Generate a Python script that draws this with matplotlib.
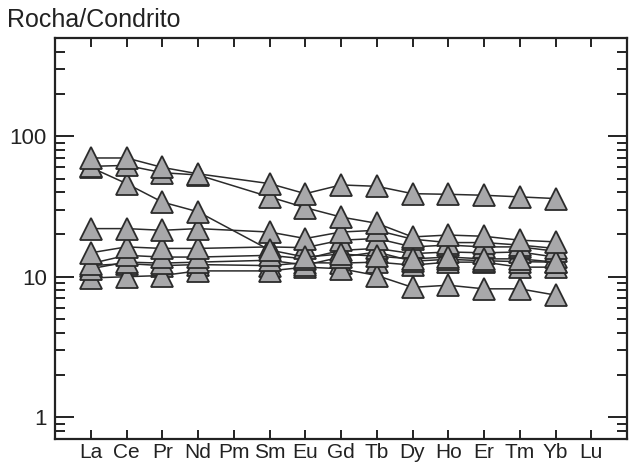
import numpy as np
import matplotlib
matplotlib.use("Agg")
import matplotlib.pyplot as plt
from matplotlib.ticker import LogLocator, NullFormatter, FixedLocator

plt.rcParams['font.family'] = ['Liberation Sans', 'DejaVu Sans']

# REE labels on the x axis (La..Lu), Pm and Lu have no data
elements = ["La", "Ce", "Pr", "Nd", "Pm", "Sm", "Eu", "Gd", "Tb", "Dy", "Ho", "Er", "Tm", "Yb", "Lu"]
measured = ["La", "Ce", "Pr", "Nd", "Sm", "Eu", "Gd", "Tb", "Dy", "Ho", "Er", "Tm", "Yb"]

# rock / chondrite normalised values, one list per sample
s1 = [70, 70, 60, 54, 46, 39, 45, 44, 39, 38.6, 38, 37, 36]
s2 = [61, 62, 55, 53, 37, 31, 26.6, 24, 19.2, 19.8, 19.4, 18.2, 17.7]
s3 = [60, 46, 34, 29, 15.5, 13.8, 14.5, 14, 13.4, 13.8, 13.4, 13.4, 12.7]
s4 = [22, 22, 21.4, 22, 20.8, 18.7, 20.8, 21.4, 18.5, 17.5, 17.5, 16.8, 15.9]
s5 = [14.8, 16.3, 15.9, 15.9, 16.3, 16.1, 18.2, 18.7, 16.3, 16.8, 16.3, 16.3, 15.2]
s6 = [12.4, 14.2, 13.8, 13.8, 14.2, 13.4, 15.4, 15.9, 14.6, 15.0, 14.8, 15.0, 13.8]
s7 = [11.4, 12.7, 12.5, 12.7, 13.1, 12.1, 13.8, 15.0, 12.9, 13.3, 13.0, 12.8, 12.7]
s8 = [9.8, 10.0, 10.2, 11.0, 11.0, 11.7, 11.4, 10.2, 8.4, 8.7, 8.2, 8.2, 7.4]
s9 = [12.0, 12.4, 12.0, 12.2, 12.0, 12.6, 12.5, 12.7, 12.1, 12.7, 12.7, 11.7, 11.7]
samples = [s9, s8, s7, s6, s5, s4, s3, s2, s1]

xpos = [elements.index(e) + 1 for e in measured]

fig = plt.figure(figsize=(6.3, 4.66), dpi=100)
ax = fig.add_axes([55 / 630, 1 - 439 / 466, 572 / 630, 401 / 466])

for s in samples:
    ax.plot(xpos, s, color="#2b2b2b", lw=1.1, marker="^", ms=15.5,
            mfc="#a8a8aa", mec="#2b2b2b", mew=1.3)

ax.set_yscale("log")
ax.set_ylim(0.7, 500)
ax.set_xlim(0, 16)
ax.set_xticks(range(1, 16))
ax.set_xticklabels(elements)
ax.yaxis.set_major_locator(FixedLocator([1, 10, 100]))
ax.yaxis.set_minor_locator(LogLocator(base=10, subs=np.arange(2, 10)))
ax.yaxis.set_minor_formatter(NullFormatter())
ax.set_yticklabels(["1", "10", "100"])

for sp in ax.spines.values():
    sp.set_linewidth(1.6)
    sp.set_color("#222222")

ax.tick_params(axis="x", which="both", direction="in", top=True, length=6.5,
               width=1.4, labelsize=15, pad=3, colors="#222222")
ax.tick_params(axis="y", which="major", direction="in", right=True, length=14,
               width=1.4, labelsize=16, pad=6, colors="#222222")
ax.tick_params(axis="y", which="minor", direction="in", right=True, length=7,
               width=1.4, colors="#222222")

fig.text(7 / 630, 1 - 20 / 466, "Rocha/Condrito", fontsize=18, va="center",
         ha="left", color="#222222")

fig.savefig("out.png", dpi=100)
